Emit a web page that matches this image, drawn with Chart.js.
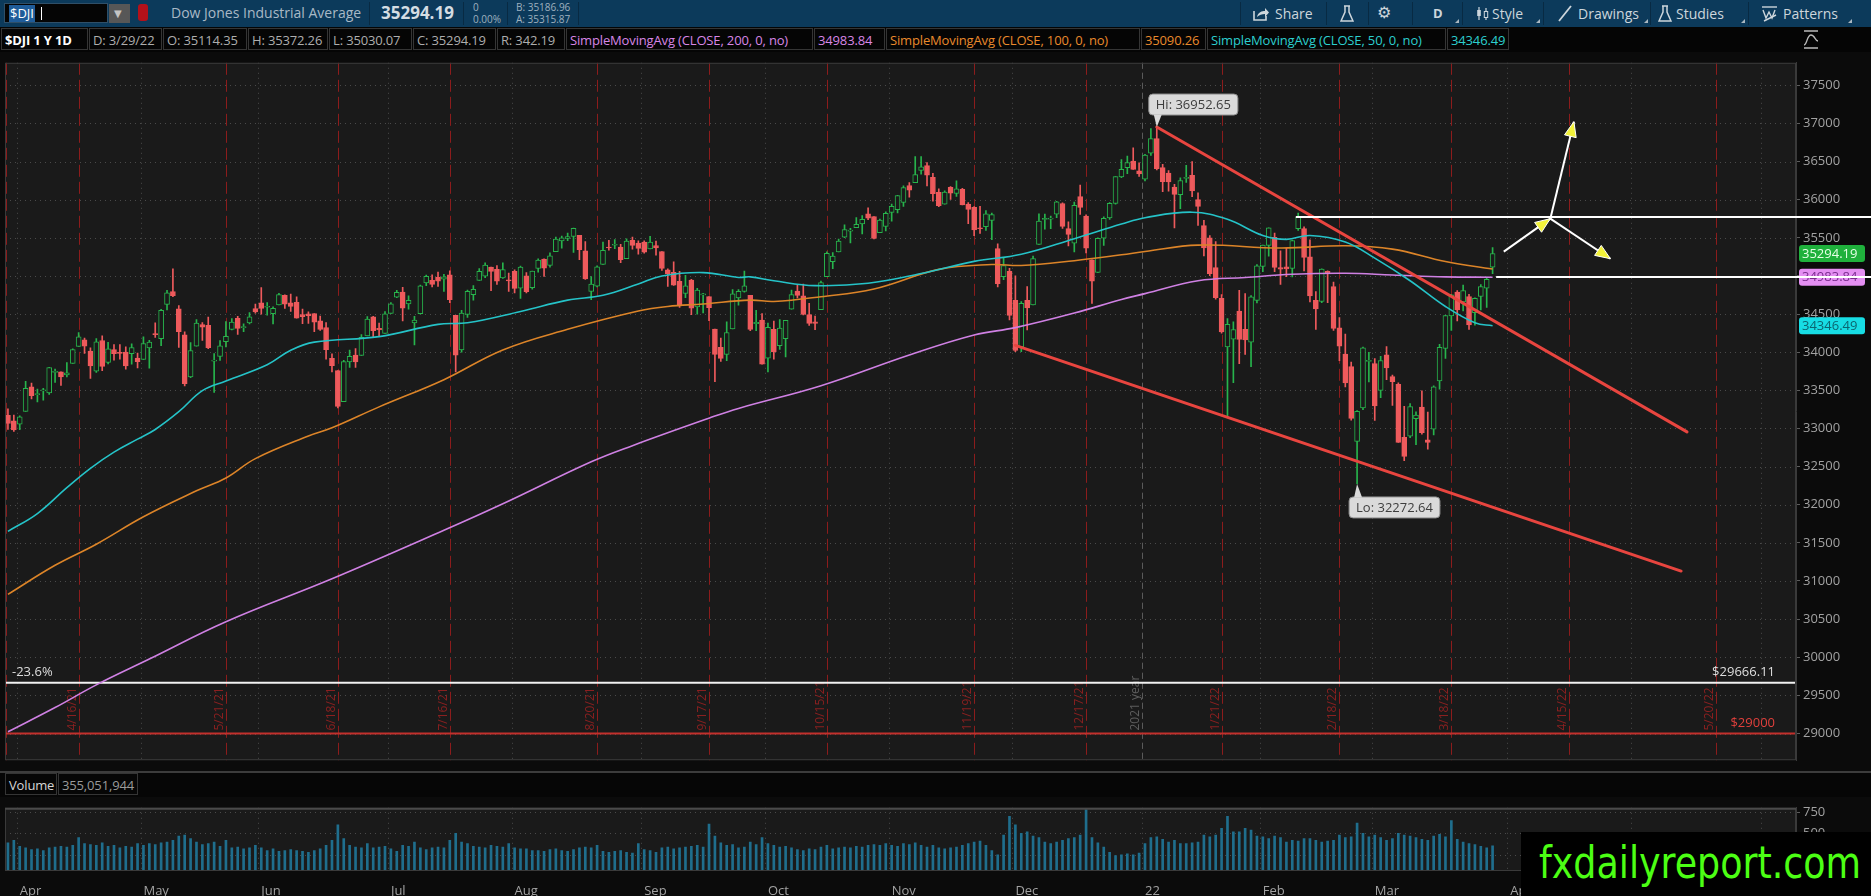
<!DOCTYPE html>
<html lang="en">
<head>
<meta charset="utf-8">
<title>$DJI 1 Y 1D</title>
<script src="https://cdn.jsdelivr.net/npm/chart.js@4.4.1/dist/chart.umd.min.js"></script>
<style>
  html, body { margin: 0; padding: 0; }
  body { width: 1871px; height: 896px; background: #0b0b0b; overflow: hidden; position: relative;
         font-family: 'Open Sans', 'DejaVu Sans', sans-serif; }
  .abs { position: absolute; white-space: nowrap; }
  #topbar { left: 0; top: 0; width: 1871px; height: 27px; background: #0c3a5b; color: #c9d3da; font-size: 14px; }
  .sep { position: absolute; top: 2px; width: 1px; height: 23px; background: #082a43; }
  .small { font-size: 10px; line-height: 12px; color: #9fb1bf; }
  .btn { position: absolute; top: 4px; line-height: 19px; font-size: 14px; color: #cdd6dc; }
  .corner { position: absolute; top: 19px; width: 0; height: 0; border-left: 4px solid transparent; border-bottom: 4px solid #aab7c1; }
  #legend { left: 0; top: 27px; width: 1871px; height: 25px; background: #050505; }
  .cell { position: absolute; top: 1px; height: 22px; line-height: 22px; font-size: 13px; letter-spacing: -0.15px; padding: 0 3px;
          border: 1px solid #353535; box-sizing: border-box; overflow: hidden; white-space: nowrap; color: #aeaeae; }
  #pricebox { left: 0; top: 52px; width: 1871px; height: 719px; }
  #volhead { left: 0; top: 771px; width: 1871px; height: 26px; background: #060606; border-top: 2px solid #3c3c3c; box-sizing: border-box; }
  #volbox { left: 0; top: 797px; width: 1871px; height: 99px; }
  #brand { left: 1521px; top: 832px; width: 350px; height: 64px; background: #000; overflow: hidden; }
  #brandText { position: absolute; left: 18px; top: 4px; color: #4cff14; transform-origin: 0 0;
               font-family: 'Liberation Sans Narrow', 'DejaVu Sans Condensed', 'Liberation Sans', sans-serif;
               font-size: 44px; line-height: 54px; white-space: nowrap; }
</style>
</head>
<body>

<div id="topbar" class="abs">
  <div class="abs" style="left:4px;top:3px;width:104px;height:20px;background:#050505;border:1px solid #2f4f68;box-sizing:border-box;"></div>
  <span class="abs" style="left:9px;top:5px;font-size:13px;line-height:17px;color:#fff;background:#1f5c99;padding:0 1px;">$DJI</span>
  <div class="abs" style="left:41px;top:7px;width:1px;height:13px;background:#fff"></div>
  <div class="abs" style="left:109px;top:4px;width:21px;height:19px;background:#575757;"></div>
  <span class="abs" style="left:114px;top:6px;color:#c4c4c4;font-size:10px">&#9660;</span>
  <div class="abs" style="left:138px;top:4px;width:10px;height:17px;background:#b3111a;border-radius:3px"></div>
  <span class="abs" style="left:171px;top:3px;line-height:20px;color:#a9b9c6">Dow Jones Industrial Average</span>
  <div class="sep" style="left:369px"></div>
  <span class="abs" style="left:381px;top:1px;font-size:17px;font-weight:700;line-height:24px;color:#d4dde3">35294.19</span>
  <div class="sep" style="left:463px"></div>
  <span class="abs small" style="left:473px;top:1px">0</span>
  <span class="abs small" style="left:473px;top:13px">0.00%</span>
  <div class="sep" style="left:507px"></div>
  <span class="abs small" style="left:516px;top:1px">B: 35186.96</span>
  <span class="abs small" style="left:516px;top:13px">A: 35315.87</span>
  <div class="sep" style="left:578px"></div>

  <div class="sep" style="left:1240px"></div>
  <svg class="abs" style="left:1252px;top:6px" width="18" height="15" viewBox="0 0 18 15">
    <path d="M2 5v9h12v-4" stroke="#cdd6dc" stroke-width="1.6" fill="none"/>
    <path d="M5 11c1-5 5-6 8-6V2l4 4.5L13 11V8c-3 0-6 1-8 3z" fill="#cdd6dc"/>
  </svg>
  <span class="btn" style="left:1275px">Share</span>
  <div class="sep" style="left:1326px"></div>
  <svg class="abs" style="left:1340px;top:5px" width="14" height="17" viewBox="0 0 14 17">
    <path d="M4 1h6M5 1v6L1 16h12L9 7V1" stroke="#cdd6dc" stroke-width="1.5" fill="none"/>
  </svg>
  <div class="sep" style="left:1368px"></div>
  <span class="btn" style="left:1377px;top:3px;font-size:16px;font-family:'DejaVu Sans'">&#9881;</span>
  <div class="sep" style="left:1412px"></div>
  <span class="btn" style="left:1433px;font-weight:700;font-size:13px">D</span>
  <div class="corner" style="left:1455px"></div>
  <div class="sep" style="left:1462px"></div>
  <svg class="abs" style="left:1476px;top:6px" width="13" height="15" viewBox="0 0 13 15">
    <path d="M3 1v13M10 2v12" stroke="#cdd6dc" stroke-width="1.2"/>
    <rect x="1.2" y="4" width="3.6" height="6" fill="#cdd6dc"/>
    <rect x="8.3" y="5.5" width="3.4" height="6" fill="#0c3a5b" stroke="#cdd6dc"/>
  </svg>
  <span class="btn" style="left:1492px">Style</span>
  <div class="corner" style="left:1536px"></div>
  <div class="sep" style="left:1543px"></div>
  <svg class="abs" style="left:1557px;top:5px" width="16" height="17" viewBox="0 0 16 17">
    <path d="M2 16L14 1" stroke="#cdd6dc" stroke-width="1.8"/>
  </svg>
  <span class="btn" style="left:1578px">Drawings</span>
  <div class="corner" style="left:1644px"></div>
  <div class="sep" style="left:1650px"></div>
  <svg class="abs" style="left:1658px;top:5px" width="14" height="17" viewBox="0 0 14 17">
    <path d="M4 1h6M5 1v6L1 16h12L9 7V1" stroke="#cdd6dc" stroke-width="1.5" fill="none"/>
  </svg>
  <span class="btn" style="left:1676px">Studies</span>
  <div class="corner" style="left:1741px"></div>
  <div class="sep" style="left:1748px"></div>
  <svg class="abs" style="left:1761px;top:5px" width="17" height="17" viewBox="0 0 17 17">
    <path d="M1 2h15" stroke="#cdd6dc" stroke-width="1.4"/>
    <path d="M2 5l3 8 3-6 3 6 3-8" stroke="#cdd6dc" stroke-width="1.4" fill="none"/>
    <path d="M3 16L15 10" stroke="#cdd6dc" stroke-width="1.4"/>
  </svg>
  <span class="btn" style="left:1783px">Patterns</span>
  <div class="corner" style="left:1848px"></div>
</div>

<div id="legend" class="abs">
  <div class="cell" style="left:1px;width:87px;color:#fff;font-weight:700">$DJI 1 Y 1D</div>
  <div class="cell" style="left:89px;width:73px">D: 3/29/22</div>
  <div class="cell" style="left:163px;width:84px">O: 35114.35</div>
  <div class="cell" style="left:248px;width:80px">H: 35372.26</div>
  <div class="cell" style="left:329px;width:83px">L: 35030.07</div>
  <div class="cell" style="left:413px;width:83px">C: 35294.19</div>
  <div class="cell" style="left:497px;width:68px">R: 342.19</div>
  <div class="cell" style="left:566px;width:247px;color:#d886e6">SimpleMovingAvg (CLOSE, 200, 0, no)</div>
  <div class="cell" style="left:814px;width:71px;color:#d886e6">34983.84</div>
  <div class="cell" style="left:886px;width:254px;color:#ea8a2c">SimpleMovingAvg (CLOSE, 100, 0, no)</div>
  <div class="cell" style="left:1141px;width:65px;color:#ea8a2c">35090.26</div>
  <div class="cell" style="left:1207px;width:239px;color:#2ccfcf">SimpleMovingAvg (CLOSE, 50, 0, no)</div>
  <div class="cell" style="left:1447px;width:62px;color:#2ccfcf">34346.49</div>
  <svg class="abs" style="left:1802px;top:2px" width="18" height="21" viewBox="0 0 18 21">
    <path d="M2 2h14M2 19h14" stroke="#bbb" stroke-width="1.5"/>
    <path d="M2 16c3 0 3-10 7-10s4 6 7 6" stroke="#bbb" stroke-width="1.3" fill="none"/>
  </svg>
</div>

<div id="pricebox" class="abs"><canvas id="priceChart"></canvas></div>

<div id="volhead" class="abs">
  <div class="cell" style="left:5px;top:0;width:52px;color:#d6d6d6">Volume</div>
  <div class="cell" style="left:58px;top:0;width:80px;color:#9a9a9a">355,051,944</div>
</div>

<div id="volbox" class="abs"><canvas id="volChart"></canvas></div>

<div id="brand" class="abs"><span id="brandText">fxdailyreport.com</span></div>

<script>
// trading sessions shown on the axis (the last four rows are the empty expansion area)
const sessions = [
  ['2021-03', [30, 31]],
  ['2021-04', [1, 5, 6, 7, 8, 9, 12, 13, 14, 15, 16, 19, 20, 21, 22, 23, 26, 27, 28, 29, 30]],
  ['2021-05', [3, 4, 5, 6, 7, 10, 11, 12, 13, 14, 17, 18, 19, 20, 21, 24, 25, 26, 27, 28]],
  ['2021-06', [1, 2, 3, 4, 7, 8, 9, 10, 11, 14, 15, 16, 17, 18, 21, 22, 23, 24, 25, 28, 29, 30]],
  ['2021-07', [1, 2, 6, 7, 8, 9, 12, 13, 14, 15, 16, 19, 20, 21, 22, 23, 26, 27, 28, 29, 30]],
  ['2021-08', [2, 3, 4, 5, 6, 9, 10, 11, 12, 13, 16, 17, 18, 19, 20, 23, 24, 25, 26, 27, 30, 31]],
  ['2021-09', [1, 2, 3, 7, 8, 9, 10, 13, 14, 15, 16, 17, 20, 21, 22, 23, 24, 27, 28, 29, 30]],
  ['2021-10', [1, 4, 5, 6, 7, 8, 11, 12, 13, 14, 15, 18, 19, 20, 21, 22, 25, 26, 27, 28, 29]],
  ['2021-11', [1, 2, 3, 4, 5, 8, 9, 10, 11, 12, 15, 16, 17, 18, 19, 22, 23, 24, 26, 29, 30]],
  ['2021-12', [1, 2, 3, 6, 7, 8, 9, 10, 13, 14, 15, 16, 17, 20, 21, 22, 23, 27, 28, 29, 30, 31]],
  ['2022-01', [3, 4, 5, 6, 7, 10, 11, 12, 13, 14, 18, 19, 20, 21, 24, 25, 26, 27, 28, 31]],
  ['2022-02', [1, 2, 3, 4, 7, 8, 9, 10, 11, 14, 15, 16, 17, 18, 22, 23, 24, 25, 28]],
  ['2022-03', [1, 2, 3, 4, 7, 8, 9, 10, 11, 14, 15, 16, 17, 18, 21, 22, 23, 24, 25, 28, 29]],
  ['2022-03', [30, 31]],
  ['2022-04', [1, 4, 5, 6, 7, 8, 11, 12, 13, 14, 15, 18, 19, 20, 21, 22, 25, 26, 27, 28, 29]],
  ['2022-05', [2, 3, 4, 5, 6, 9, 10, 11, 12, 13, 16, 17, 18, 19, 20, 23, 24, 25, 26, 27, 30, 31]],
  ['2022-06', [1, 2, 3, 6, 7, 8]]
];

const opens = [
  33171, 33100,
  33055, 33222, 33547, 33443, 33493, 33467, 33736, 33743, 33702, 33852, 34076, 34161, 34016, 33751, 34154, 33865, 34033, 33998, 34001, 33982, 33923,
  33904, 34055, 34243, 34176, 34628, 34794, 34568, 34227, 33677, 34078, 34363, 34353, 33884, 33944, 34137, 34299, 34443, 34323, 34383, 34571,
  34647, 34589, 34504, 34619, 34746, 34649, 34655, 34493, 34504, 34508, 34412, 34324, 33920, 33758, 33352, 33874, 33963, 33959, 34214, 34465, 34313, 34246,
  34507, 34722, 34788, 34632, 34383, 34505, 34910, 34943, 34983, 34959, 35014, 34484, 34031, 34496, 34754, 34940, 34998, 35116, 35087, 34974, 34946,
  35062, 34840, 35002, 34847, 35098, 35220, 35138, 35319, 35459, 35491, 35517, 35532, 35331, 34796, 34866, 35152, 35375, 35403, 35379, 35227, 35468, 35432,
  35443, 35353, 35398, 35320, 35080, 35048, 34930, 34772, 34945, 34594, 34752, 34729, 34304, 34065, 33971, 34304, 34712, 34796, 34745, 34374, 34422,
  33923, 34301, 34085, 34178, 34564, 34800, 34740, 34492, 34398, 34558, 34990, 35186, 35315, 35508, 35587, 35634, 35681, 35813, 35779, 35567, 35648,
  35834, 35870, 35964, 36186, 36224, 36384, 36446, 36292, 36097, 35942, 36162, 36082, 36135, 35942, 35900, 35631, 35645, 35727, 35360, 34990, 35060,
  34680, 34070, 34680, 34620, 35415, 35740, 35745, 35810, 35950, 35620, 35430, 36040, 35785, 35210, 35045, 35495, 35760, 35950, 36300, 36420, 36505, 36380,
  36270, 36610, 36800, 36420, 36350, 36165, 36065, 36280, 36320, 36000, 35660, 35500, 35110, 34705, 34070, 34170, 34540, 34300, 34130, 34680,
  35125, 35400, 35505, 35110, 35120, 35100, 35620, 35620, 35250, 34680, 34665, 35060, 34860, 34320, 33975, 33810, 32830, 33270, 33880,
  33850, 33500, 33965, 33680, 33580, 32885, 32900, 33130, 33280, 32850, 32990, 33625, 34050, 34475, 34790, 34660, 34730, 34520, 34730, 34840, 35114.35
];
const highs = [
  33259, 33174,
  33167, 33618, 33595, 33515, 33525, 33801, 33780, 33743, 33865, 34044, 34256, 34186, 34058, 34178, 34215, 34128, 34100, 34100, 34069, 34110, 33990,
  34202, 34155, 34385, 34562, 34811, 35092, 34611, 34267, 34127, 34427, 34390, 34461, 33981, 34154, 34400, 34441, 34469, 34372, 34520, 34631,
  34849, 34651, 34594, 34772, 34754, 34761, 34727, 34567, 34530, 34508, 34474, 34390, 33980, 33758, 33892, 34029, 34046, 34232, 34466, 34470, 34381, 34532,
  34651, 34810, 34850, 34740, 34470, 34881, 35011, 35015, 35051, 35020, 35067, 34484, 34550, 34815, 34874, 35097, 35172, 35116, 35136, 35171, 35038,
  35080, 35130, 35043, 35064, 35224, 35226, 35302, 35511, 35524, 35561, 35629, 35532, 35450, 34991, 35133, 35443, 35466, 35478, 35416, 35487, 35510, 35459,
  35462, 35519, 35457, 35320, 35092, 35184, 35059, 35009, 34957, 34838, 34772, 34729, 34304, 34185, 34398, 34822, 34822, 35064, 34745, 34548, 34505,
  34382, 34407, 34429, 34416, 34815, 34886, 34893, 34642, 34474, 34933, 35316, 35308, 35483, 35669, 35623, 35765, 35792, 35892, 35779, 35747, 35840,
  35942, 36058, 36181, 36225, 36566, 36565, 36486, 36345, 36142, 36117, 36173, 36248, 36150, 35961, 35908, 35912, 35858, 35823, 35420, 35233, 35100,
  35000, 34664, 34861, 35262, 35813, 35812, 35784, 35979, 35958, 35709, 35967, 36193, 35800, 35210, 35500, 35776, 35961, 36304, 36527, 36571, 36679, 36484,
  36596, 36934, 36952.65, 36464, 36383, 36200, 36287, 36450, 36500, 36090, 35730, 35530, 35450, 34756, 34440, 34398, 34810, 34770, 34742, 35148,
  35405, 35631, 35563, 35330, 35362, 35470, 35825, 35645, 35472, 34795, 35092, 35066, 34919, 34454, 34237, 33869, 33234, 34067, 34000,
  33916, 33946, 34075, 33700, 33600, 33291, 33325, 33219, 33495, 33216, 33560, 34104, 34482, 34758, 34808, 34880, 34760, 34713, 34886, 34971, 35372.26
];
const lows = [
  32987, 32962,
  32985, 33222, 33387, 33347, 33372, 33448, 33605, 33563, 33676, 33852, 34076, 33985, 33655, 33735, 33758, 33848, 33895, 33910, 33778, 33842, 33795,
  33904, 33791, 34194, 34087, 34554, 34728, 34062, 33557, 33667, 34078, 34153, 34048, 33474, 33892, 34068, 34291, 34233, 34270, 34370, 34512,
  34499, 34485, 34370, 34619, 34575, 34535, 34447, 34375, 34376, 34270, 34285, 33910, 33743, 33271, 33352, 33800, 33801, 33959, 34214, 34198, 34218, 34246,
  34507, 34715, 34410, 34564, 34097, 34503, 34871, 34855, 34863, 34797, 34651, 33741, 34000, 34457, 34684, 34940, 34977, 34807, 34888, 34967, 34798,
  34778, 34706, 34776, 34826, 35049, 34995, 35114, 35319, 35363, 35464, 35310, 35212, 34956, 34690, 34856, 35152, 35339, 35358, 35173, 35227, 35352, 35286,
  35299, 35353, 35274, 35072, 34863, 34876, 34588, 34714, 34492, 34500, 34514, 34412, 33614, 33879, 33890, 34304, 34617, 34788, 34284, 34283, 33843,
  33743, 33908, 34035, 33937, 34564, 34713, 34488, 34351, 34297, 34558, 34990, 35096, 35315, 35502, 35434, 35634, 35552, 35738, 35484, 35567, 35590,
  35719, 35827, 35912, 36032, 36223, 36335, 36181, 35981, 35907, 35942, 36003, 36044, 35931, 35687, 35528, 35558, 35596, 35475, 34857, 34950, 34425,
  34006, 34006, 34293, 34620, 35415, 35612, 35620, 35764, 35622, 35393, 35314, 35807, 35302, 34640, 35045, 35400, 35740, 35940, 36290, 36341, 36398, 36306,
  36247, 36580, 36390, 36104, 36111, 35630, 35881, 36226, 36039, 35662, 35261, 35003, 34695, 34250, 33150, 33600, 33850, 33970, 33810, 34647,
  35055, 35260, 35056, 34890, 34992, 34988, 35596, 35065, 34659, 34300, 34650, 34650, 34286, 33890, 33545, 33110, 32272.64, 33248, 33610,
  33106, 33403, 33641, 33303, 32818, 32579, 32880, 32787, 32926, 32730, 32917, 33516, 33919, 34287, 34409, 34543, 34300, 34353, 34554, 34588, 35030.07
];
const closes = [
  33067, 32982,
  33153, 33527, 33430, 33446, 33503, 33800, 33745, 33677, 33730, 34036, 34201, 34078, 33821, 34137, 33815, 34043, 33982, 33985, 33821, 34060, 33875,
  34114, 34133, 34230, 34549, 34778, 34743, 34270, 33587, 34022, 34382, 34327, 34061, 33897, 34085, 34208, 34394, 34313, 34323, 34465, 34529,
  34575, 34600, 34577, 34756, 34630, 34600, 34447, 34466, 34480, 34394, 34299, 34033, 33823, 33290, 33876, 33945, 33874, 34196, 34433, 34283, 34292, 34503,
  34634, 34786, 34577, 34681, 34422, 34870, 34996, 34889, 34933, 34987, 34688, 33962, 34512, 34798, 34823, 35062, 35144, 35059, 34931, 35085, 34935,
  34838, 35117, 34793, 35065, 35209, 35102, 35265, 35485, 35500, 35516, 35626, 35343, 34961, 34894, 35121, 35336, 35367, 35406, 35214, 35456, 35400, 35361,
  35313, 35444, 35369, 35100, 35031, 34879, 34608, 34870, 34578, 34814, 34752, 34585, 33970, 33919, 34258, 34765, 34798, 34870, 34300, 34391, 33844,
  34326, 34003, 34315, 34417, 34755, 34746, 34496, 34378, 34377, 34912, 35295, 35259, 35457, 35609, 35603, 35677, 35741, 35757, 35491, 35731, 35820,
  35913, 36053, 36158, 36124, 36328, 36432, 36320, 36080, 35921, 36100, 36087, 36143, 35931, 35871, 35602, 35619, 35814, 35805, 34899, 35136, 34484,
  34022, 34640, 34580, 35227, 35720, 35754, 35755, 35971, 35650, 35545, 35927, 35898, 35365, 34932, 35493, 35754, 35951, 36302, 36398, 36488, 36398, 36338,
  36585, 36800, 36408, 36236, 36232, 36069, 36252, 36290, 36114, 35912, 35369, 35029, 34715, 34265, 34365, 34298, 34168, 34161, 34725, 35132,
  35405, 35630, 35111, 35089, 35091, 35463, 35768, 35242, 34738, 34566, 35089, 35036, 34312, 34079, 33597, 33132, 33224, 34059, 33893,
  33295, 33891, 33795, 33615, 32818, 32633, 33286, 33174, 32945, 32818, 33545, 34063, 34481, 34754, 34553, 34808, 34359, 34708, 34862, 34956, 35294.19
];
// volume, millions of shares
const volumes = [
  390, 420,
  350, 330, 310, 320, 300, 330, 340, 350, 340, 360, 450, 380, 370, 360, 390, 350, 360, 330, 350, 340, 380,
  360, 380, 370, 390, 400, 420, 470, 480, 440, 400, 370, 380, 400, 350, 420, 330, 340, 320, 330, 360,
  330, 300, 320, 290, 300, 310, 300, 290, 280, 300, 320, 360, 420, 600, 440, 360, 340, 330, 380, 330, 340, 350,
  320, 290, 360, 350, 400, 330, 310, 330, 340, 330, 420, 500, 400, 380, 350, 340, 330, 360, 350, 340, 380,
  330, 320, 320, 300, 300, 290, 310, 320, 300, 290, 310, 330, 340, 330, 360, 290, 280, 290, 300, 280, 270, 380,
  310, 300, 280, 330, 340, 320, 330, 340, 350, 360, 340, 610, 470, 390, 360, 370, 330, 340, 400, 370, 450,
  380, 360, 340, 350, 330, 310, 300, 320, 310, 340, 360, 320, 330, 340, 330, 350, 340, 360, 370, 360, 380,
  360, 350, 380, 370, 390, 360, 340, 360, 330, 320, 330, 340, 360, 380, 400, 410, 360, 300, 250, 480, 700,
  600, 500, 520, 470, 450, 400, 380, 400, 420, 440, 450, 480, 780, 450, 390, 340, 280, 240, 250, 260, 250, 270,
  380, 450, 460, 430, 400, 420, 380, 380, 390, 400, 480, 460, 480, 560, 700, 520, 520, 560, 540, 470,
  460, 440, 470, 450, 400, 420, 410, 440, 440, 420, 400, 410, 420, 480, 450, 460, 620, 500, 460,
  480, 450, 420, 440, 500, 480, 470, 450, 430, 420, 470, 490, 460, 650, 430, 400, 380, 370, 350, 330, 355
];

// moving averages at these bar indices
const sma200Idx = [0, 8, 15, 24, 37, 55, 74, 84, 99, 106, 119, 124, 138, 153, 164, 171, 181, 189, 193, 202, 210, 218, 227, 235, 244, 252];
const sma200 = [29022, 29340, 29638, 29976, 30465, 31028, 31664, 32012, 32563, 32775, 33135, 33263, 33560, 33963, 34225, 34322, 34513, 34692, 34768, 34937, 34980, 35022, 35035, 35013, 34988, 34983.84];
const sma100Idx = [0, 8, 15, 23, 32, 37, 42, 51, 55, 63, 74, 84, 95, 107, 112, 118, 126, 130, 138, 147, 158, 167, 172, 181, 189, 193, 202, 216, 227, 235, 244, 252];
const sma100 = [30825, 31206, 31482, 31842, 32182, 32351, 32605, 32902, 33008, 33283, 33640, 34030, 34300, 34540, 34600, 34632, 34683, 34665, 34728, 34830, 35086, 35150, 35137, 35200, 35277, 35320, 35404, 35366, 35395, 35352, 35190, 35090.26];
const sma50Idx = [0, 5, 10, 14, 18, 22, 25, 29, 33, 37, 44, 48, 52, 63, 73, 78, 87, 95, 101, 107, 111, 118, 124, 126, 130, 137, 146, 155, 164, 172, 181, 189, 193, 201, 207, 213, 217, 221, 227, 232, 238, 244, 249, 252];
const sma50 = [31651, 31884, 32224, 32478, 32690, 32860, 32987, 33220, 33496, 33623, 33835, 34026, 34132, 34204, 34365, 34386, 34535, 34683, 34746, 34895, 35000, 35044, 34980, 34988, 34937, 34873, 34904, 35031, 35191, 35285, 35489, 35680, 35764, 35836, 35743, 35531, 35480, 35531, 35446, 35234, 34937, 34599, 34386, 34346.49];

const priceTicks = [29000, 29500, 30000, 30500, 31000, 31500, 32000, 32500, 33000, 33500, 34000, 34500, 35000, 35500, 36000, 36500, 37000, 37500];
const volTicks = [250, 500, 750];
const priceMin = 28650, priceMax = 37795;
const volMin = 60, volMax = 800;

// monthly expirations marked on the chart
const expiries = ['4/16/21', '5/21/21', '6/18/21', '7/16/21', '8/20/21', '9/17/21', '10/15/21', '11/19/21', '12/17/21', '1/21/22', '2/18/22', '3/18/22', '4/15/22', '5/20/22'];
const fibLevel = 29666.11, fibText = '-23.6%';
const floorLevel = 29000;

// drawings: [fromIndex, fromPrice, toIndex, toPrice]
const trendLines = [[171, 34090, 284, 31130], [195, 36952.65, 285, 32955]];
const levelLines = [[218.6, 35770], [252.6, 34984]];   // run to the right edge
const arrows = [[253.9, 35319, 261.8, 35751], [261.8, 35751, 265.8, 37023], [261.8, 35751, 272.0, 35226]];

const GREEN = '#27b44c', RED = '#ee5a5c', PLOT_BG = '#1a1a1a';
const C200 = '#cf80e3', C100 = '#dc8428', C50 = '#25c3c8';

const labels = [];
sessions.forEach(([ym, days]) => {
  const [yy, mm] = ym.split('-');
  days.forEach(d => labels.push(`${+mm}/${d}/${yy.slice(2)}`));
});
if (opens.length !== closes.length || highs.length !== closes.length || lows.length !== closes.length || volumes.length !== closes.length) {
  console.warn('length mismatch', opens.length, highs.length, lows.length, closes.length, volumes.length);
}

const monthNames = ['Jan', 'Feb', 'Mar', 'Apr', 'May', 'Jun', 'Jul', 'Aug', 'Sep', 'Oct', 'Nov', 'Dec'];
const monthStarts = [];
labels.forEach((l, i) => {
  if (i > 0 && l.split('/')[0] !== labels[i - 1].split('/')[0]) monthStarts.push(i);
});
function monthLabel(i) {
  const [m, , yy] = labels[i].split('/');
  return m === '1' ? yy : monthNames[m - 1];
}

const isUp = closes.map((c, i) => c >= opens[i]);
const pts = (idx, vals) => idx.map((x, k) => ({ x: labels[x], y: vals[k] }));

Chart.defaults.font.family = "'Open Sans', 'DejaVu Sans', sans-serif";
Chart.defaults.animation = false;

function seg(ctx, x1, y1, x2, y2) {
  ctx.beginPath(); ctx.moveTo(x1, y1); ctx.lineTo(x2, y2); ctx.stroke();
}
function slotWidth(chart) {
  return (chart.chartArea.right - chart.chartArea.left) / labels.length;
}
function roundBox(ctx, x, y, w, h, r) {
  ctx.beginPath();
  ctx.moveTo(x + r, y); ctx.lineTo(x + w - r, y); ctx.quadraticCurveTo(x + w, y, x + w, y + r);
  ctx.lineTo(x + w, y + h - r); ctx.quadraticCurveTo(x + w, y + h, x + w - r, y + h);
  ctx.lineTo(x + r, y + h); ctx.quadraticCurveTo(x, y + h, x, y + h - r);
  ctx.lineTo(x, y + r); ctx.quadraticCurveTo(x, y, x + r, y); ctx.closePath();
}
function drawArrow(ctx, x1, y1, x2, y2) {
  ctx.strokeStyle = '#ffffff'; ctx.lineWidth = 2; ctx.setLineDash([]);
  seg(ctx, x1, y1, x2, y2);
  const a = Math.atan2(y2 - y1, x2 - x1), L = 15, W = 6;
  const bx = x2 - L * Math.cos(a), by = y2 - L * Math.sin(a);
  ctx.beginPath();
  ctx.moveTo(x2, y2);
  ctx.lineTo(bx + W * Math.sin(a), by - W * Math.cos(a));
  ctx.lineTo(bx - W * Math.sin(a), by + W * Math.cos(a));
  ctx.closePath();
  ctx.fillStyle = '#f2f23a'; ctx.fill();
  ctx.lineWidth = 1; ctx.stroke();
}
function callout(ctx, text, px, py, below) {
  ctx.font = "13px 'Open Sans'";
  const w = ctx.measureText(text).width + 14, h = 21;
  const bx = px - 8, by = below ? py + 13 : py - 12 - h;
  ctx.fillStyle = '#dadada'; ctx.strokeStyle = '#8d8d8d'; ctx.lineWidth = 1;
  roundBox(ctx, bx, by, w, h, 4); ctx.fill(); ctx.stroke();
  ctx.beginPath();
  const ey = below ? by + 0.5 : by + h - 0.5;
  ctx.moveTo(bx + 5, ey); ctx.lineTo(px, py); ctx.lineTo(bx + 13, ey); ctx.closePath();
  ctx.fill();
  ctx.fillStyle = '#3d3d3d'; ctx.textAlign = 'left'; ctx.textBaseline = 'middle';
  ctx.fillText(text, bx + 7, by + h / 2 + 0.5);
}
function priceTag(ctx, area, y, text, bg, fg) {
  ctx.font = "13px 'Open Sans'";
  const x = area.right + 3, w = 66, h = 17;
  ctx.fillStyle = bg; roundBox(ctx, x, y - h / 2, w, h, 3); ctx.fill();
  ctx.fillStyle = fg; ctx.textAlign = 'left'; ctx.textBaseline = 'middle';
  ctx.fillText(text, x + 3, y + 0.5);
}

const priceDecor = {
  id: 'priceDecor',
  beforeDraw(chart) {
    const { ctx, chartArea: a, scales: { x, y } } = chart;
    const slot = slotWidth(chart);
    ctx.save();
    ctx.fillStyle = PLOT_BG;
    ctx.fillRect(a.left, a.top, a.right - a.left, a.bottom - a.top);

    ctx.strokeStyle = '#4a4a4a'; ctx.lineWidth = 1; ctx.setLineDash([1, 4]);
    priceTicks.forEach(v => { const py = Math.round(y.getPixelForValue(v)) + 0.5; seg(ctx, a.left, py, a.right, py); });
    monthStarts.forEach(i => { const px = Math.round(x.getPixelForValue(i) - slot / 2) + 0.5; seg(ctx, px, a.top, px, a.bottom); });

    const labelBase = y.getPixelForValue(floorLevel) - 3;
    ctx.font = "12px 'Open Sans'";
    ctx.textAlign = 'left'; ctx.textBaseline = 'bottom';

    ctx.strokeStyle = '#8c1c1c'; ctx.setLineDash([12, 5]);
    seg(ctx, a.left + 1.5, a.top, a.left + 1.5, a.bottom);
    expiries.forEach(d => {
      const px = Math.round(x.getPixelForValue(labels.indexOf(d))) + 0.5;
      ctx.strokeStyle = '#8c1c1c';
      seg(ctx, px, a.top, px, a.bottom);
      ctx.save(); ctx.translate(px - 1, labelBase); ctx.rotate(-Math.PI / 2);
      ctx.fillStyle = '#8a2020'; ctx.fillText(d, 0, 0); ctx.restore();
    });

    const yi = labels.indexOf('12/31/21');
    const yx = Math.round((x.getPixelForValue(yi) + x.getPixelForValue(yi + 1)) / 2) + 0.5;
    ctx.strokeStyle = '#5a5a5a'; ctx.setLineDash([6, 4]);
    seg(ctx, yx, a.top, yx, a.bottom);
    ctx.save(); ctx.translate(yx - 1, labelBase); ctx.rotate(-Math.PI / 2);
    ctx.fillStyle = '#5e5e5e'; ctx.fillText('2021 year', 0, 0); ctx.restore();

    ctx.setLineDash([]);
    const fy = y.getPixelForValue(fibLevel);
    ctx.strokeStyle = '#f2f2f2'; ctx.lineWidth = 2;
    seg(ctx, a.left, fy, a.right, fy);
    const ry = y.getPixelForValue(floorLevel);
    ctx.strokeStyle = '#c2302c';
    seg(ctx, a.left, ry, a.right, ry);
    ctx.font = "13px 'Open Sans'"; ctx.textBaseline = 'bottom';
    ctx.fillStyle = '#dedede'; ctx.textAlign = 'left';
    ctx.fillText(fibText, a.left + 7, fy - 4);
    ctx.textAlign = 'right';
    ctx.fillText('$' + fibLevel.toFixed(2), a.right - 21, fy - 4);
    ctx.fillStyle = '#e0403c';
    ctx.fillText('$' + floorLevel, a.right - 21, ry - 4);
    ctx.restore();
  },
  afterDatasetsDraw(chart) {
    const { ctx, chartArea: a, scales: { x, y } } = chart;
    ctx.save();
    ctx.strokeStyle = '#e8453f'; ctx.lineWidth = 3; ctx.lineCap = 'round';
    trendLines.forEach(([i1, p1, i2, p2]) => seg(ctx, x.getPixelForValue(i1), y.getPixelForValue(p1), x.getPixelForValue(i2), y.getPixelForValue(p2)));
    ctx.lineCap = 'butt';
    arrows.forEach(([i1, p1, i2, p2]) => drawArrow(ctx, x.getPixelForValue(i1), y.getPixelForValue(p1), x.getPixelForValue(i2), y.getPixelForValue(p2)));

    const hi = highs.indexOf(Math.max(...highs));
    const lo = lows.indexOf(Math.min(...lows));
    callout(ctx, 'Hi: ' + highs[hi].toFixed(2), x.getPixelForValue(hi), y.getPixelForValue(highs[hi]), false);
    callout(ctx, 'Lo: ' + lows[lo].toFixed(2), x.getPixelForValue(lo), y.getPixelForValue(lows[lo]), true);

    ctx.strokeStyle = '#3a3a3a'; ctx.lineWidth = 1;
    ctx.strokeRect(a.left + 0.5, a.top + 0.5, a.right - a.left - 1, a.bottom - a.top - 1);
    ctx.restore();
  },
  afterDraw(chart) {
    const { ctx, chartArea: a, scales: { x, y } } = chart;
    const last = closes.length - 1;
    ctx.save();
    priceTag(ctx, a, y.getPixelForValue(closes[last]), closes[last].toFixed(2), '#1fb13c', '#e6ffe6');
    priceTag(ctx, a, y.getPixelForValue(sma200[sma200.length - 1]), sma200[sma200.length - 1].toFixed(2), '#e48ff2', '#7a2d8e');
    priceTag(ctx, a, y.getPixelForValue(sma50[sma50.length - 1]), sma50[sma50.length - 1].toFixed(2), '#17dde4', '#0b6570');
    ctx.strokeStyle = '#ffffff'; ctx.lineWidth = 2;
    levelLines.forEach(([i, p]) => {
      const py = Math.round(y.getPixelForValue(p));
      seg(ctx, x.getPixelForValue(i), py, chart.width, py);
    });
    ctx.restore();
  }
};

new Chart(document.getElementById('priceChart'), {
  type: 'bar',
  data: {
    labels,
    datasets: [
      { type: 'line', data: pts(sma50Idx, sma50), borderColor: C50, borderWidth: 1.6, pointRadius: 0, tension: 0.4, order: 0 },
      { type: 'line', data: pts(sma100Idx, sma100), borderColor: C100, borderWidth: 1.6, pointRadius: 0, tension: 0.4, order: 0 },
      { type: 'line', data: pts(sma200Idx, sma200), borderColor: C200, borderWidth: 1.6, pointRadius: 0, tension: 0.4, order: 0 },
      {
        data: opens.map((o, i) => [o, closes[i]]),
        backgroundColor: isUp.map(u => u ? PLOT_BG : RED),
        borderColor: isUp.map(u => u ? GREEN : RED),
        borderWidth: 1, borderSkipped: false, barThickness: 5, minBarLength: 1, grouped: false, order: 1
      },
      {
        data: lows.map((l, i) => [l, highs[i]]),
        backgroundColor: isUp.map(u => u ? GREEN : RED),
        barThickness: 1, grouped: false, order: 2
      }
    ]
  },
  options: {
    responsive: true,
    maintainAspectRatio: false,
    layout: { padding: { left: 5, right: 0, top: 0, bottom: 0 } },
    plugins: { legend: { display: false }, tooltip: { enabled: false } },
    events: [],
    scales: {
      x: { type: 'category', offset: true, display: false },
      y: {
        position: 'right', min: priceMin, max: priceMax,
        afterBuildTicks: s => { s.ticks = priceTicks.map(v => ({ value: v })); },
        afterFit: s => { s.width = 75; },
        grid: { drawOnChartArea: false, color: '#5c5c5c', tickLength: 4 },
        border: { color: '#3a3a3a' },
        ticks: { color: '#a2a2a2', font: { size: 13 }, padding: 3, callback: v => String(v) }
      }
    }
  },
  plugins: [priceDecor]
});

const volDecor = {
  id: 'volDecor',
  beforeDraw(chart) {
    const { ctx, chartArea: a, scales: { x, y } } = chart;
    const slot = slotWidth(chart);
    ctx.save();
    ctx.fillStyle = PLOT_BG;
    ctx.fillRect(a.left, a.top, a.right - a.left, a.bottom - a.top);
    ctx.strokeStyle = '#4a4a4a'; ctx.lineWidth = 1; ctx.setLineDash([1, 4]);
    volTicks.forEach(v => { const py = Math.round(y.getPixelForValue(v)) + 0.5; seg(ctx, a.left, py, a.right, py); });
    monthStarts.forEach(i => { const px = Math.round(x.getPixelForValue(i) - slot / 2) + 0.5; seg(ctx, px, a.top, px, a.bottom); });
    ctx.restore();
  },
  afterDraw(chart) {
    const { ctx, chartArea: a } = chart;
    ctx.save();
    ctx.strokeStyle = '#3a3a3a'; ctx.lineWidth = 1;
    ctx.strokeRect(a.left + 0.5, a.top + 0.5, a.right - a.left - 1, a.bottom - a.top - 1);
    ctx.strokeStyle = '#4a4a4a'; ctx.lineWidth = 2;
    seg(ctx, a.left, a.top + 1, a.right, a.top + 1);
    ctx.restore();
  }
};

new Chart(document.getElementById('volChart'), {
  type: 'bar',
  data: {
    labels,
    datasets: [{ data: volumes, backgroundColor: '#1f6e8d', barThickness: 2 }]
  },
  options: {
    responsive: true,
    maintainAspectRatio: false,
    layout: { padding: { left: 5, right: 0, top: 0, bottom: 0 } },
    plugins: { legend: { display: false }, tooltip: { enabled: false } },
    events: [],
    scales: {
      x: {
        type: 'category', offset: true,
        grid: { display: false }, border: { display: false },
        afterBuildTicks: s => { s.ticks = monthStarts.map(i => ({ value: i })); },
        afterFit: s => { s.height = 25; },
        ticks: { autoSkip: false, maxRotation: 0, align: 'start', color: '#a2a2a2', font: { size: 13 }, padding: 4,
                 callback: v => monthLabel(v) }
      },
      y: {
        position: 'right', min: volMin, max: volMax,
        afterBuildTicks: s => { s.ticks = volTicks.map(v => ({ value: v })); },
        afterFit: s => { s.width = 75; },
        grid: { drawOnChartArea: false, color: '#5c5c5c', tickLength: 4 },
        border: { color: '#3a3a3a' },
        ticks: { color: '#a2a2a2', font: { size: 13 }, padding: 3, callback: v => String(v) }
      }
    }
  },
  plugins: [volDecor]
});

// squeeze the watermark text into the box width
const brandText = document.getElementById('brandText');
brandText.style.transform = `scaleX(${(322 / brandText.getBoundingClientRect().width).toFixed(3)})`;
</script>
</body>
</html>
